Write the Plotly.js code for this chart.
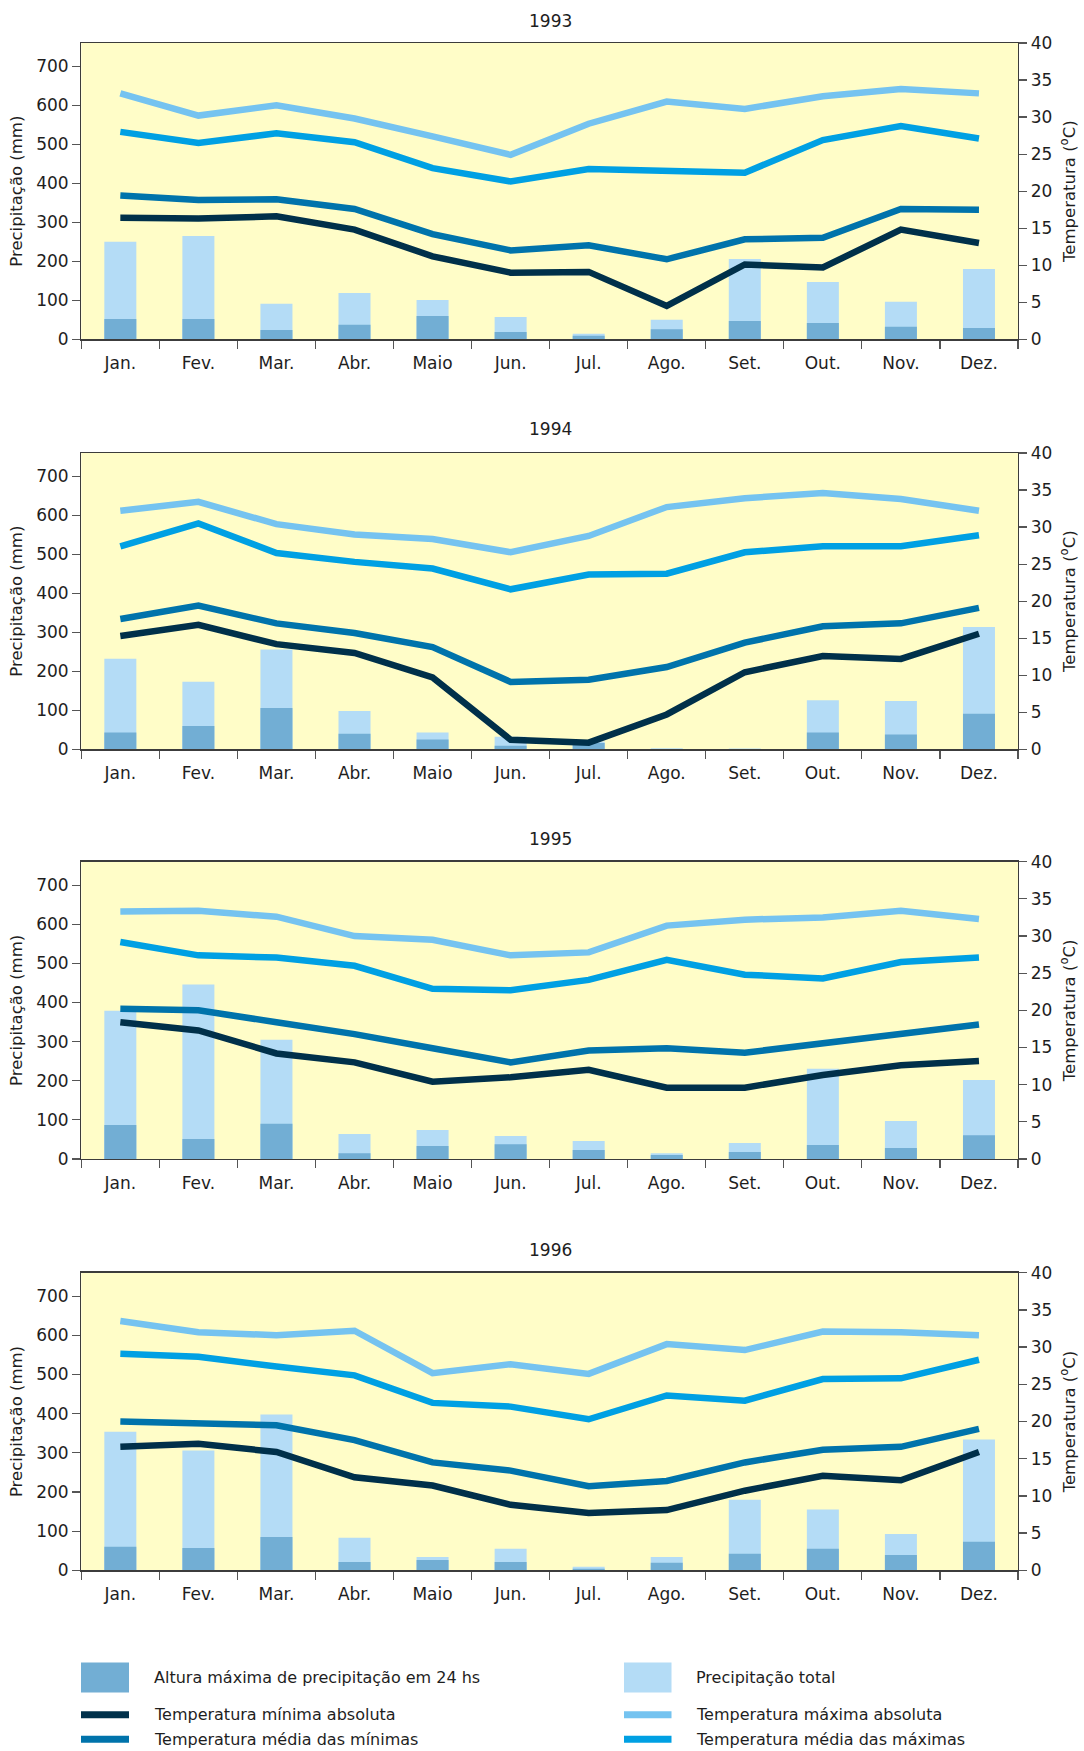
<!DOCTYPE html>
<html>
<head>
<meta charset="utf-8">
<script src="https://cdn.plot.ly/plotly-3.0.1.min.js"></script>
<style>
  html, body { margin: 0; padding: 0; background: #ffffff; }
  #chart { width: 1084px; height: 1751px; }
</style>
</head>
<body>
<div id="chart"></div>
<script>
// ---------- Data ----------
const months = ['Jan.', 'Fev.', 'Mar.', 'Abr.', 'Maio', 'Jun.', 'Jul.', 'Ago.', 'Set.', 'Out.', 'Nov.', 'Dez.'];
const years = ['1993', '1994', '1995', '1996'];

// Precipitação total (mm)
const total1993 = [250, 265, 91, 119, 101, 57, 14, 50, 206, 147, 96, 180];
const total1994 = [232, 173, 256, 98, 43, 32, 20, 3, 2, 126, 124, 314];
const total1995 = [379, 446, 305, 64, 74, 59, 46, 15, 41, 231, 97, 202];
const total1996 = [354, 306, 398, 83, 34, 55, 9, 34, 180, 155, 93, 334];

// Altura máxima de precipitação em 24 hs (mm)
const max24h1993 = [52, 52, 24, 37, 60, 19, 9, 26, 47, 42, 32, 29];
const max24h1994 = [43, 60, 106, 40, 25, 9, 16, 1, 0, 43, 38, 91];
const max24h1995 = [87, 51, 90, 15, 33, 38, 23, 10, 18, 36, 28, 61];
const max24h1996 = [60, 57, 85, 21, 26, 21, 4, 19, 42, 55, 39, 73];

// Temperatura mínima absoluta (°C)
const tMinAbs1993 = [16.4, 16.3, 16.6, 14.8, 11.2, 9.0, 9.1, 4.5, 10.1, 9.7, 14.8, 13.0];
const tMinAbs1994 = [15.3, 16.8, 14.2, 13.0, 9.7, 1.3, 0.9, 4.7, 10.4, 12.6, 12.2, 15.6];
const tMinAbs1995 = [18.4, 17.3, 14.2, 13.0, 10.4, 11.0, 12.0, 9.6, 9.6, 11.3, 12.6, 13.2];
const tMinAbs1996 = [16.6, 17.0, 15.9, 12.5, 11.4, 8.8, 7.7, 8.1, 10.7, 12.7, 12.1, 15.9];

// Temperatura média das mínimas (°C)
const tMedMin1993 = [19.4, 18.8, 18.9, 17.6, 14.2, 12.0, 12.7, 10.8, 13.5, 13.7, 17.6, 17.5];
const tMedMin1994 = [17.6, 19.4, 17.0, 15.7, 13.8, 9.1, 9.4, 11.1, 14.4, 16.6, 17.0, 19.1];
const tMedMin1995 = [20.2, 20.0, 18.4, 16.8, 14.9, 13.0, 14.6, 14.9, 14.3, 15.6, 17.0, 18.1];
const tMedMin1996 = [20.0, 19.7, 19.5, 17.5, 14.5, 13.4, 11.3, 12.0, 14.5, 16.2, 16.6, 19.0];

// Temperatura máxima absoluta (°C)
const tMaxAbs1993 = [33.2, 30.2, 31.6, 29.8, 27.4, 24.9, 29.1, 32.1, 31.1, 32.8, 33.8, 33.2];
const tMaxAbs1994 = [32.2, 33.4, 30.4, 29.0, 28.4, 26.6, 28.8, 32.7, 33.9, 34.6, 33.8, 32.2];
const tMaxAbs1995 = [33.3, 33.4, 32.6, 30.0, 29.5, 27.4, 27.8, 31.4, 32.2, 32.5, 33.4, 32.3];
const tMaxAbs1996 = [33.5, 32.0, 31.6, 32.2, 26.5, 27.7, 26.4, 30.4, 29.6, 32.1, 32.0, 31.6];

// Temperatura média das máximas (°C)
const tMedMax1993 = [28.0, 26.5, 27.8, 26.6, 23.1, 21.3, 23.0, 22.7, 22.5, 26.9, 28.8, 27.1];
const tMedMax1994 = [27.4, 30.5, 26.5, 25.3, 24.4, 21.6, 23.6, 23.7, 26.6, 27.4, 27.4, 28.9];
const tMedMax1995 = [29.2, 27.4, 27.1, 26.0, 22.9, 22.7, 24.1, 26.8, 24.8, 24.3, 26.5, 27.1];
const tMedMax1996 = [29.1, 28.7, 27.4, 26.2, 22.5, 22.0, 20.3, 23.5, 22.8, 25.7, 25.8, 28.3];

const seriesNames = {
  max24: 'Altura máxima de precipitação em 24 hs',
  total: 'Precipitação total',
  minAbs: 'Temperatura mínima absoluta',
  maxAbs: 'Temperatura máxima absoluta',
  medMin: 'Temperatura média das mínimas',
  medMax: 'Temperatura média das máximas'
};

// ---------- Style ----------
const W = 1084, H = 1751;
const FONT = 'DejaVu Sans, Liberation Sans, sans-serif';
const TEXT = '#1e1e1e';
const AXIS = '#3c3c3c';
const TICK = '#555555';
const BG = '#FFFDC8';
const COLORS = {
  max24: '#72AED4',
  total: '#B4DCF6',
  minAbs: '#00304A',
  medMin: '#0073AB',
  maxAbs: '#75C3F0',
  medMax: '#00A0E3'
};

const yearData = [
  {total: total1993, max24: max24h1993, minAbs: tMinAbs1993, medMin: tMedMin1993, maxAbs: tMaxAbs1993, medMax: tMedMax1993},
  {total: total1994, max24: max24h1994, minAbs: tMinAbs1994, medMin: tMedMin1994, maxAbs: tMaxAbs1994, medMax: tMedMax1994},
  {total: total1995, max24: max24h1995, minAbs: tMinAbs1995, medMin: tMedMin1995, maxAbs: tMaxAbs1995, medMax: tMedMax1995},
  {total: total1996, max24: max24h1996, minAbs: tMinAbs1996, medMin: tMedMin1996, maxAbs: tMaxAbs1996, medMax: tMedMax1996}
];

// pixel geometry of the four panels (top / bottom of plot area, title centre)
const panels = [
  {top: 43,    bottom: 339.3,  titleY: 20.7},
  {top: 453,   bottom: 749.3,  titleY: 429.3},
  {top: 861.7, bottom: 1159,   titleY: 839.3},
  {top: 1272.7, bottom: 1570.3, titleY: 1250}
];
const xDomain = [81.3 / W, 1018 / W];
const pyP = v => 1 - v / H;   // pixel -> paper y
const pxP = v => v / W;       // pixel -> paper x

const boundaries = months.map((m, i) => i - 0.5).concat([months.length - 0.5]);

const traces = [];
const layout = {
  width: W, height: H,
  margin: {l: 0, r: 0, t: 0, b: 0},
  paper_bgcolor: '#ffffff',
  plot_bgcolor: BG,
  showlegend: false,
  barmode: 'overlay',
  font: {family: FONT, size: 17, color: TEXT},
  annotations: [],
  shapes: []
};

const tickFont = {family: FONT, size: 17, color: TEXT};
const titleFont = {family: FONT, size: 16.5, color: TEXT};

panels.forEach((p, i) => {
  const n = i + 1;
  const xName = n === 1 ? 'x' : 'x' + n;
  const yName = n === 1 ? 'y' : 'y' + n;
  const yRight = 'y' + (4 + n);
  const yInL = 'y' + (8 + n);
  const yInR = 'y' + (12 + n);
  const xIn = 'x' + (4 + n);
  const dom = [pyP(p.bottom), pyP(p.top)];
  const d = yearData[i];

  // bars: total behind, max 24h in front
  traces.push({
    type: 'bar', x: months, y: d.total, name: seriesNames.total,
    xaxis: xName, yaxis: yName, width: 0.41,
    marker: {color: COLORS.total, line: {width: 0}}, hoverinfo: 'y'
  });
  traces.push({
    type: 'bar', x: months, y: d.max24, name: seriesNames.max24,
    xaxis: xName, yaxis: yName, width: 0.41,
    marker: {color: COLORS.max24, line: {width: 0}}, hoverinfo: 'y'
  });
  // temperature lines
  ['maxAbs', 'medMax', 'medMin', 'minAbs'].forEach(k => {
    traces.push({
      type: 'scatter', mode: 'lines', x: months, y: d[k], name: seriesNames[k],
      xaxis: xName, yaxis: yRight,
      line: {color: COLORS[k], width: 6.5}, hoverinfo: 'y'
    });
  });

  const axKey = a => a.replace('x', 'xaxis').replace('y', 'yaxis');

  layout[axKey(xName)] = {
    domain: xDomain, anchor: yName, type: 'category',
    categoryorder: 'array', categoryarray: months,
    range: [-0.5, months.length - 0.5],
    tickson: 'boundaries', ticks: 'outside', ticklen: 8, tickwidth: 1.2, tickcolor: TICK,
    ticklabelstandoff: 8,
    showline: true, linecolor: AXIS, linewidth: 1.3, mirror: true,
    showgrid: false, zeroline: false, tickfont: tickFont, fixedrange: true
  };
  layout[axKey(xIn)] = {
    overlaying: xName, anchor: yName, type: 'linear',
    range: [-0.5, months.length - 0.5],
    tickmode: 'array', tickvals: boundaries, ticks: 'inside', ticklen: 8, tickwidth: 1.2, tickcolor: TICK,
    showticklabels: false, showline: false, showgrid: false, zeroline: false, fixedrange: true
  };
  layout[axKey(yName)] = {
    domain: dom, anchor: xName, range: [0, 760],
    tick0: 0, dtick: 100, ticks: 'outside', ticklen: 8, tickwidth: 1.2, tickcolor: TICK,
    showline: true, linecolor: AXIS, linewidth: 1.3,
    showgrid: false, zeroline: false, tickfont: tickFont, fixedrange: true,
    title: {text: 'Precipitação (mm)', font: titleFont, standoff: 9}
  };
  layout[axKey(yInL)] = {
    overlaying: yName, anchor: xName, side: 'left', range: [0, 760],
    tick0: 0, dtick: 100, ticks: 'inside', ticklen: 8, tickwidth: 1.2, tickcolor: TICK,
    showticklabels: false, showline: false, showgrid: false, zeroline: false, fixedrange: true
  };
  layout[axKey(yRight)] = {
    overlaying: yName, anchor: xName, side: 'right', range: [0, 40],
    tick0: 0, dtick: 5, ticks: 'outside', ticklen: 8, tickwidth: 1.2, tickcolor: TICK,
    showline: true, linecolor: AXIS, linewidth: 1.3,
    showgrid: false, zeroline: false, tickfont: tickFont, fixedrange: true,
    title: {text: 'Temperatura (<sup>o</sup>C)', font: titleFont, standoff: 12}
  };
  layout[axKey(yInR)] = {
    overlaying: yName, anchor: xName, side: 'right', range: [0, 40],
    tick0: 0, dtick: 5, ticks: 'inside', ticklen: 8, tickwidth: 1.2, tickcolor: TICK,
    showticklabels: false, showline: false, showgrid: false, zeroline: false, fixedrange: true
  };

  layout.annotations.push({
    text: years[i], xref: 'paper', yref: 'paper',
    x: pxP(550), y: pyP(p.titleY), xanchor: 'center', yanchor: 'middle',
    showarrow: false, font: {family: FONT, size: 17, color: TEXT}
  });
});

// ---------- Legend (drawn at the foot of the page) ----------
const legendItems = [
  {key: 'max24', kind: 'box',  col: 0, row: 0},
  {key: 'total', kind: 'box',  col: 1, row: 0},
  {key: 'minAbs', kind: 'line', col: 0, row: 1},
  {key: 'maxAbs', kind: 'line', col: 1, row: 1},
  {key: 'medMin', kind: 'line', col: 0, row: 2},
  {key: 'medMax', kind: 'line', col: 1, row: 2}
];
const legCols = [{x0: 81, x1: 129, tx: 152}, {x0: 624, x1: 671.5, tx: 694}];
const legRows = [1677.5, 1714.7, 1739.3];
legendItems.forEach(it => {
  const c = legCols[it.col], yc = legRows[it.row];
  if (it.kind === 'box') {
    layout.shapes.push({
      type: 'rect', xref: 'paper', yref: 'paper',
      x0: pxP(c.x0), x1: pxP(c.x1), y0: pyP(yc + 15), y1: pyP(yc - 15),
      fillcolor: COLORS[it.key], line: {width: 0}
    });
  } else {
    layout.shapes.push({
      type: 'line', xref: 'paper', yref: 'paper',
      x0: pxP(c.x0), x1: pxP(c.x1), y0: pyP(yc), y1: pyP(yc),
      line: {color: COLORS[it.key], width: 7}
    });
  }
  layout.annotations.push({
    text: seriesNames[it.key], xref: 'paper', yref: 'paper',
    x: pxP(c.tx), y: pyP(yc), xanchor: 'left', yanchor: 'middle',
    showarrow: false, font: {family: FONT, size: 16, color: TEXT}
  });
});

Plotly.newPlot('chart', traces, layout, {staticPlot: true, displayModeBar: false});
</script>
</body>
</html>
